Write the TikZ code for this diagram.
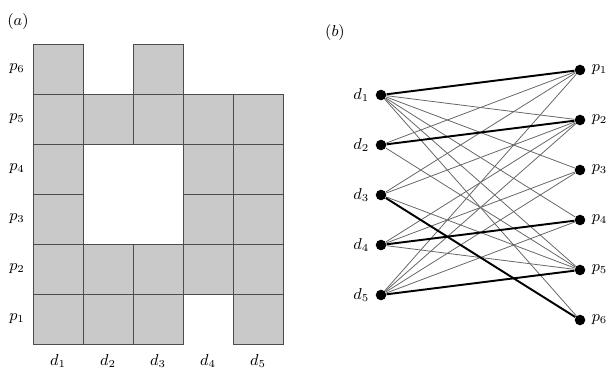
\documentclass[tikz,border=0pt]{standalone}
\usepackage{amsmath}
\usetikzlibrary{positioning}

\tikzset{
  cell/.style={fill=gray!42, draw=black!70, line width=0.5pt},
  vert/.style={circle, fill=black, inner sep=0pt, minimum size=6pt},
  edge/.style={black!60, line width=0.45pt},
  match/.style={black, line width=1.1pt},
}

\begin{document}
\begin{tikzpicture}[x=0.02cm, y=-0.02cm, font=\small]
    \useasboundingbox (0,0) rectangle (608,368);

    % (a) the occupancy grid
    \node (tagA) at (18,22) {$(a)$};
    \foreach \c/\r in {1/1,2/1,3/1,5/1, 1/2,2/2,3/2,4/2,5/2, 1/3,4/3,5/3,
                       1/4,4/4,5/4, 1/5,2/5,3/5,4/5,5/5, 1/6,3/6} {
        \draw[cell] ({33+50*(\c-1)},{344-50*(\r-1)}) rectangle ++(50,-50);
    }
    \foreach \r in {1,...,6} {
        \node (rowp\r) at (17,{319-50*(\r-1)}) {$p_\r$};
    }
    \foreach \c in {1,...,5} {
        \node (cold\c) at ({58+50*(\c-1)},361) {$d_\c$};
    }

    % (b) the bipartite graph
    \node (tagB) at (335,33) {$(b)$};
    \foreach \i in {1,...,5} {
        \node[vert, label=left:$d_\i$] (d\i) at (381,{95+50*(\i-1)}) {};
    }
    \foreach \i in {1,...,6} {
        \node[vert, label=right:$p_\i$] (p\i) at (580,{70+50*(\i-1)}) {};
    }

    % Connections
    \foreach \a/\b in {1/2,1/3,1/4,1/5,1/6, 2/1,2/5, 3/1,3/2,3/5,
                       4/2,4/3,4/5, 5/1,5/2,5/3,5/4} {
        \draw[edge] (d\a) -- (p\b);
    }

    % The matching
    \foreach \a/\b in {1/1,2/2,3/6,4/4,5/5} {
        \draw[match] (d\a) -- (p\b);
    }
\end{tikzpicture}
\end{document}
